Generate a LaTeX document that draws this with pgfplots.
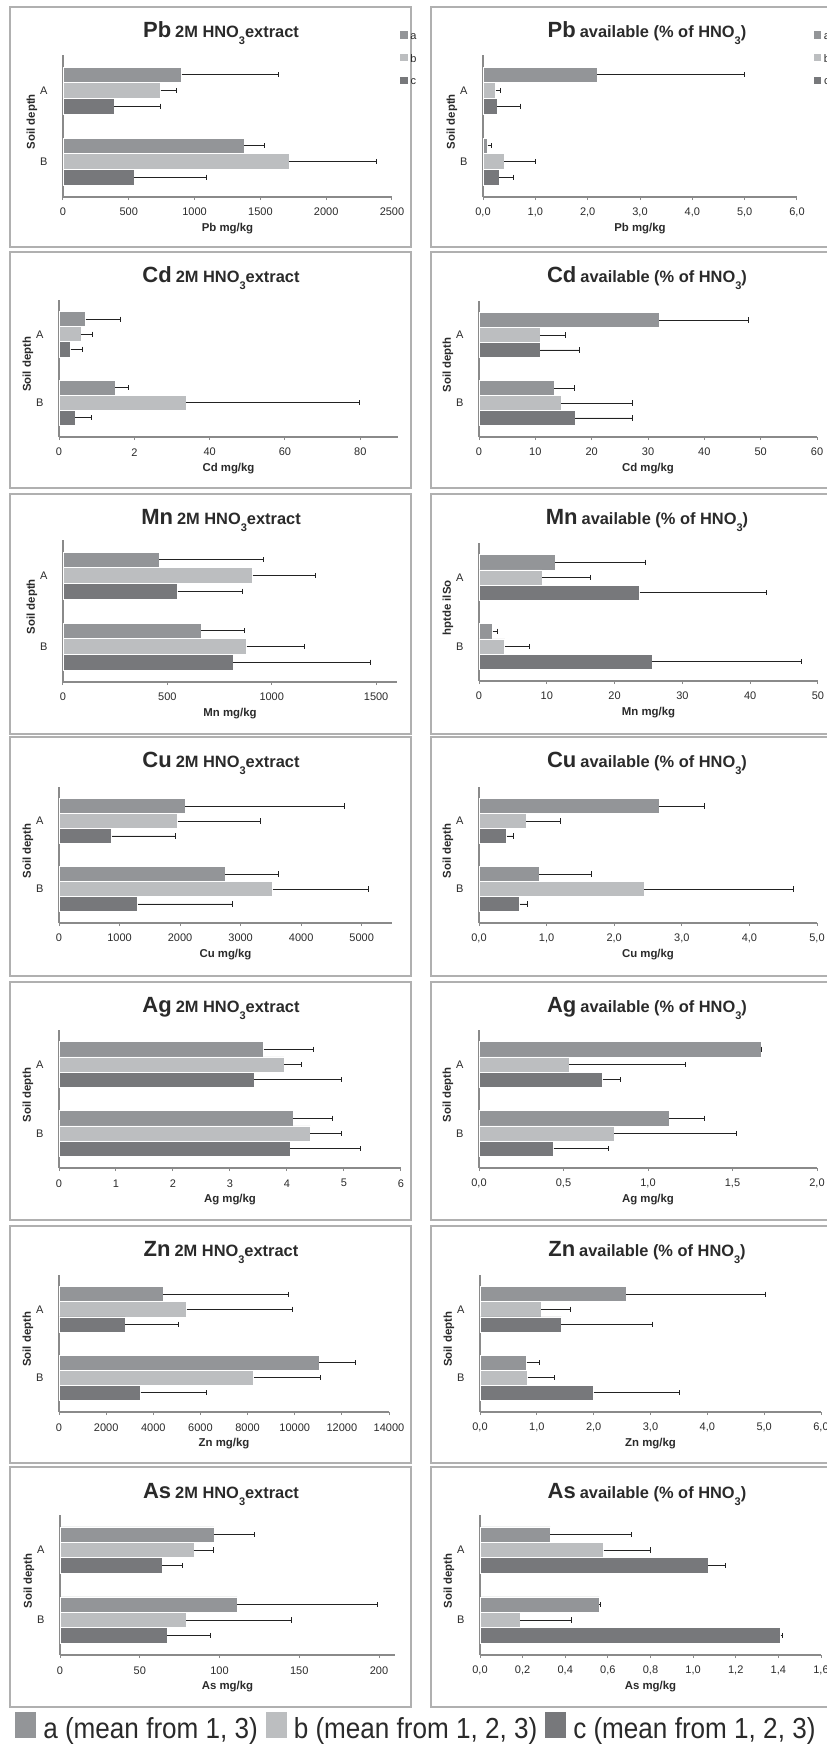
\documentclass[border=0pt]{standalone}
\usepackage{fontspec}
\setmainfont{Liberation Sans}
\newfontfamily\legfont[FakeStretch=0.9]{Liberation Sans}
\usepackage{pgfplots}
\pgfplotsset{compat=1.18}
\definecolor{cola}{HTML}{939598}
\definecolor{colb}{HTML}{BCBEC0}
\definecolor{colc}{HTML}{77787B}
\definecolor{axisgray}{HTML}{8A8A8A}
\definecolor{boxgray}{HTML}{B0B0B0}
\definecolor{txt}{HTML}{2A2A2A}
\definecolor{errcol}{HTML}{222222}
\newcommand{\tsz}{\fontsize{5.5}{6.5}\selectfont}
\newcommand{\sub}[1]{\raisebox{-3.5pt}{\fontsize{5.5}{6}\selectfont #1}}
\newcommand{\extitle}[1]{{\fontsize{11}{13}\selectfont\bfseries #1}\hspace{2pt}{\fontsize{8.2}{10}\selectfont\bfseries 2M HNO\sub{3}extract}}
\newcommand{\avtitle}[1]{{\fontsize{11}{13}\selectfont\bfseries #1}\hspace{2pt}{\fontsize{8.2}{10}\selectfont\bfseries available (\% of HNO\sub{3})}}
\pgfplotsset{
  panel/.style={
    xbar, scale only axis, clip=false,
    axis x line*=bottom, axis y line*=left,
    axis line style={draw=axisgray, line width=0.55pt},
    xmin=0, ymin=-0.5, ymax=1.5,
    ytick={0,1}, yticklabels={B,A},
    tick align=outside, major tick length=1.6pt,
    x tick style={draw=axisgray, line width=0.5pt},
    y tick style={draw=none},
    tick label style={font=\tsz, text=txt},
    xticklabel style={anchor=center, yshift=-6pt},
    yticklabel style={anchor=center, xshift=-8pt},
    scaled ticks=false,
    /pgf/number format/assume math mode=true,
    /pgf/number format/1000 sep={},
    xlabel style={font=\fontsize{5.7}{7}\selectfont\bfseries, text=txt, at={(axis description cs:0.5,0)}, anchor=center, yshift=-16pt},
    ylabel style={font=\fontsize{5.7}{7}\selectfont\bfseries, text=txt, at={(axis description cs:0,0.53)}, anchor=center, yshift=15.5pt},
    ylabel={Soil depth},
    bar width=0.22,
  },
  dec1/.style={xticklabel style={/pgf/number format/.cd, fixed, fixed zerofill, precision=1, use comma}},
  eb/.style={error bars/x dir=plus, error bars/x explicit,
    error bars/error mark=|,
    error bars/error bar style={draw=errcol, line width=0.45pt},
    error bars/error mark options={draw=errcol, line width=0.45pt, mark size=1.3pt}},
  sa/.style={fill=cola, draw=white, line width=0.3pt, bar shift=0.22, eb,
    legend image code/.code={\fill[cola] (0pt,0pt) rectangle (3.2pt,3.2pt);}},
  sb/.style={fill=colb, draw=white, line width=0.3pt, bar shift=0, eb,
    legend image code/.code={\fill[colb] (0pt,0pt) rectangle (3.2pt,3.2pt);}},
  sc/.style={fill=colc, draw=white, line width=0.3pt, bar shift=-0.22, eb,
    legend image code/.code={\fill[colc] (0pt,0pt) rectangle (3.2pt,3.2pt);}},
  toplegend/.style={legend style={at={(#1,1.197)}, anchor=north west, draw=none, fill=none,
    font=\tsz, text=txt, nodes={inner sep=0pt}, row sep=5.5pt,
    /tikz/every odd column/.append style={column sep=1.5pt}}},
}
\begin{document}
\begin{tikzpicture}
\useasboundingbox (0pt,0pt) rectangle (413pt,-872.5pt);
% panel frames
\foreach \t/\b in {3.5/123.5, 126/244, 247/367, 368.5/488, 491/610, 613/731.5, 733.5/853.5}{
  \draw[boxgray, line width=0.6pt] (5pt,-\t pt) rectangle (205.5pt,-\b pt);
  \draw[boxgray, line width=0.6pt] (215.5pt,-\t pt) rectangle (425pt,-\b pt);
}
% titles
\node[anchor=base, text=txt, inner sep=0pt] at (110.5pt,-18.5pt) {\extitle{Pb}};
\node[anchor=base, text=txt, inner sep=0pt] at (323.5pt,-18.5pt) {\avtitle{Pb}};
\node[anchor=base, text=txt, inner sep=0pt] at (110.5pt,-141pt) {\extitle{Cd}};
\node[anchor=base, text=txt, inner sep=0pt] at (323.5pt,-141pt) {\avtitle{Cd}};
\node[anchor=base, text=txt, inner sep=0pt] at (110.5pt,-262pt) {\extitle{Mn}};
\node[anchor=base, text=txt, inner sep=0pt] at (323.5pt,-262pt) {\avtitle{Mn}};
\node[anchor=base, text=txt, inner sep=0pt] at (110.5pt,-383.5pt) {\extitle{Cu}};
\node[anchor=base, text=txt, inner sep=0pt] at (323.5pt,-383.5pt) {\avtitle{Cu}};
\node[anchor=base, text=txt, inner sep=0pt] at (110.5pt,-506pt) {\extitle{Ag}};
\node[anchor=base, text=txt, inner sep=0pt] at (323.5pt,-506pt) {\avtitle{Ag}};
\node[anchor=base, text=txt, inner sep=0pt] at (110.5pt,-628pt) {\extitle{Zn}};
\node[anchor=base, text=txt, inner sep=0pt] at (323.5pt,-628pt) {\avtitle{Zn}};
\node[anchor=base, text=txt, inner sep=0pt] at (110.5pt,-749pt) {\extitle{As}};
\node[anchor=base, text=txt, inner sep=0pt] at (323.5pt,-749pt) {\avtitle{As}};

% Row 1: Pb
\begin{axis}[panel, at={(31.5pt,-98.5pt)}, anchor=south west, width=164.5pt, height=71pt,
  xmax=2500, xtick={0,500,1000,1500,2000,2500}, xlabel={Pb mg/kg}, toplegend=1.006]
\addplot[sa] coordinates {(901,1) +- (736,0) (1376,0) +- (152,0)};
\addplot[sb] coordinates {(741,1) +- (122,0) (1716,0) +- (665,0)};
\addplot[sc] coordinates {(388,1) +- (353,0) (543,0) +- (548,0)};
\legend{a,b,c}
\end{axis}
\begin{axis}[panel, dec1, at={(241.5pt,-98.5pt)}, anchor=south west, width=157pt, height=71pt,
  xmax=6, xtick={0,1,2,3,4,5,6}, xlabel={Pb mg/kg}, toplegend=1.033]
\addplot[sa] coordinates {(2.18,1) +- (2.82,0) (0.09,0) +- (0.08,0)};
\addplot[sb] coordinates {(0.24,1) +- (0.10,0) (0.41,0) +- (0.59,0)};
\addplot[sc] coordinates {(0.27,1) +- (0.44,0) (0.31,0) +- (0.28,0)};
\legend{a,b,c}
\end{axis}

% Row 2: Cd
\begin{axis}[panel, at={(29.5pt,-218.5pt)}, anchor=south west, width=169.5pt, height=68.5pt,
  xmax=90, xtick={0,20,40,60,80}, xticklabels={0,2,40,60,80}, xlabel={Cd mg/kg}]
\addplot[sa] coordinates {(7.1,1) +- (9.1,0) (14.9,0) +- (3.6,0)};
\addplot[sb] coordinates {(5.8,1) +- (3.1,0) (33.7,0) +- (46.1,0)};
\addplot[sc] coordinates {(3.1,1) +- (3.1,0) (4.2,0) +- (4.4,0)};
\end{axis}
\begin{axis}[panel, at={(239.5pt,-218.5pt)}, anchor=south west, width=169pt, height=68pt,
  xmax=60, xtick={0,10,20,30,40,50,60}, xlabel={Cd mg/kg}]
\addplot[sa] coordinates {(31.95,1) +- (15.95,0) (13.3,0) +- (3.6,0)};
\addplot[sb] coordinates {(10.8,1) +- (4.6,0) (14.6,0) +- (12.6,0)};
\addplot[sc] coordinates {(10.9,1) +- (6.9,0) (17.1,0) +- (10.1,0)};
\end{axis}

% Row 3: Mn
\begin{axis}[panel, at={(31.5pt,-341pt)}, anchor=south west, width=167pt, height=71pt,
  xmax=1600, xtick={0,500,1000,1500}, xlabel={Mn mg/kg}]
\addplot[sa] coordinates {(459,1) +- (501,0) (662,0) +- (206,0)};
\addplot[sb] coordinates {(908,1) +- (299,0) (880,0) +- (275,0)};
\addplot[sc] coordinates {(549,1) +- (311,0) (816,0) +- (658,0)};
\end{axis}
\begin{axis}[panel, at={(239.5pt,-340.5pt)}, anchor=south west, width=169.5pt, height=69pt,
  xmax=50, xtick={0,10,20,30,40,50}, xlabel={Mn mg/kg}, ylabel={hptde ilSo}]
\addplot[sa] coordinates {(11.2,1) +- (13.4,0) (2.0,0) +- (0.7,0)};
\addplot[sb] coordinates {(9.3,1) +- (7.1,0) (3.8,0) +- (3.6,0)};
\addplot[sc] coordinates {(23.7,1) +- (18.7,0) (25.5,0) +- (22.1,0)};
\end{axis}

% Row 4: Cu
\begin{axis}[panel, at={(29.5pt,-461.5pt)}, anchor=south west, width=166.5pt, height=68pt,
  xmax=5500, xtick={0,1000,2000,3000,4000,5000}, xlabel={Cu mg/kg}]
\addplot[sa] coordinates {(2087,1) +- (2627,0) (2742,0) +- (881,0)};
\addplot[sb] coordinates {(1960,1) +- (1360,0) (3530,0) +- (1575,0)};
\addplot[sc] coordinates {(870,1) +- (1046,0) (1300,0) +- (1563,0)};
\end{axis}
\begin{axis}[panel, dec1, at={(239.5pt,-461.5pt)}, anchor=south west, width=169pt, height=68pt,
  xmax=5, xtick={0,1,2,3,4,5}, xlabel={Cu mg/kg}]
\addplot[sa] coordinates {(2.67,1) +- (0.66,0) (0.89,0) +- (0.78,0)};
\addplot[sb] coordinates {(0.70,1) +- (0.51,0) (2.44,0) +- (2.21,0)};
\addplot[sc] coordinates {(0.41,1) +- (0.10,0) (0.60,0) +- (0.12,0)};
\end{axis}

% Row 5: Ag
\begin{axis}[panel, at={(29.5pt,-584pt)}, anchor=south west, width=171pt, height=69pt,
  xmax=6, xtick={0,1,2,3,4,5,6}, xlabel={Ag mg/kg}]
\addplot[sa] coordinates {(3.59,1) +- (0.88,0) (4.11,0) +- (0.69,0)};
\addplot[sb] coordinates {(3.95,1) +- (0.30,0) (4.41,0) +- (0.55,0)};
\addplot[sc] coordinates {(3.42,1) +- (1.54,0) (4.05,0) +- (1.24,0)};
\end{axis}
\begin{axis}[panel, dec1, at={(239.5pt,-584pt)}, anchor=south west, width=169pt, height=69pt,
  xmax=2, xtick={0,0.5,1,1.5,2}, xlabel={Ag mg/kg}]
\addplot[sa] coordinates {(1.668,1) +- (0.004,0) (1.127,0) +- (0.209,0)};
\addplot[sb] coordinates {(0.534,1) +- (0.689,0) (0.800,0) +- (0.724,0)};
\addplot[sc] coordinates {(0.731,1) +- (0.105,0) (0.441,0) +- (0.326,0)};
\end{axis}

% Row 6: Zn
\begin{axis}[panel, at={(29.5pt,-706pt)}, anchor=south west, width=165pt, height=68.5pt,
  xmax=14000, xtick={0,2000,4000,6000,8000,10000,12000,14000}, xlabel={Zn mg/kg}]
\addplot[sa] coordinates {(4407,1) +- (5326,0) (11033,0) +- (1554,0)};
\addplot[sb] coordinates {(5410,1) +- (4507,0) (8264,0) +- (2839,0)};
\addplot[sc] coordinates {(2811,1) +- (2246,0) (3461,0) +- (2797,0)};
\end{axis}
\begin{axis}[panel, dec1, at={(240pt,-706pt)}, anchor=south west, width=170.5pt, height=68.5pt,
  xmax=6, xtick={0,1,2,3,4,5,6}, xlabel={Zn mg/kg}]
\addplot[sa] coordinates {(2.57,1) +- (2.45,0) (0.82,0) +- (0.22,0)};
\addplot[sb] coordinates {(1.08,1) +- (0.51,0) (0.84,0) +- (0.47,0)};
\addplot[sc] coordinates {(1.43,1) +- (1.61,0) (2.00,0) +- (1.51,0)};
\end{axis}

% Row 7: As
\begin{axis}[panel, at={(30pt,-827.5pt)}, anchor=south west, width=167.5pt, height=70pt,
  xmax=210, xtick={0,50,100,150,200}, xlabel={As mg/kg}]
\addplot[sa] coordinates {(96.5,1) +- (25.2,0) (111,0) +- (88,0)};
\addplot[sb] coordinates {(84,1) +- (12.5,0) (79,0) +- (66,0)};
\addplot[sc] coordinates {(64,1) +- (13,0) (67,0) +- (27,0)};
\end{axis}
\begin{axis}[panel, dec1, at={(240pt,-827.5pt)}, anchor=south west, width=170.5pt, height=70pt,
  xmax=1.6, xtick={0,0.2,0.4,0.6,0.8,1.0,1.2,1.4,1.6}, xlabel={As mg/kg}]
\addplot[sa] coordinates {(0.33,1) +- (0.38,0) (0.56,0) +- (0.005,0)};
\addplot[sb] coordinates {(0.58,1) +- (0.22,0) (0.19,0) +- (0.24,0)};
\addplot[sc] coordinates {(1.07,1) +- (0.08,0) (1.41,0) +- (0.01,0)};
\end{axis}

% bottom legend
\begin{axis}[hide axis, scale only axis, width=1pt, height=1pt, at={(207.75pt,-863.5pt)}, anchor=center,
  xmin=0, xmax=1, ymin=0, ymax=1,
  legend columns=3,
  legend style={at={(0.5,0.5)}, anchor=center, draw=none, fill=none,
    font=\legfont\fontsize{14.5}{16}\selectfont, text=txt, nodes={inner sep=0pt},
    /tikz/every odd column/.append style={column sep=3.5pt},
    /tikz/every even column/.append style={column sep=4pt}}]
\addlegendimage{legend image code/.code={\fill[cola] (0pt,-3.8pt) rectangle (10pt,8.7pt);}}
\addlegendentry{a (mean from 1, 3)}
\addlegendimage{legend image code/.code={\fill[colb] (0pt,-3.8pt) rectangle (10pt,8.7pt);}}
\addlegendentry{b (mean from 1, 2, 3)}
\addlegendimage{legend image code/.code={\fill[colc] (0pt,-3.8pt) rectangle (10pt,8.7pt);}}
\addlegendentry{c (mean from 1, 2, 3)}
\end{axis}
\end{tikzpicture}
\end{document}
